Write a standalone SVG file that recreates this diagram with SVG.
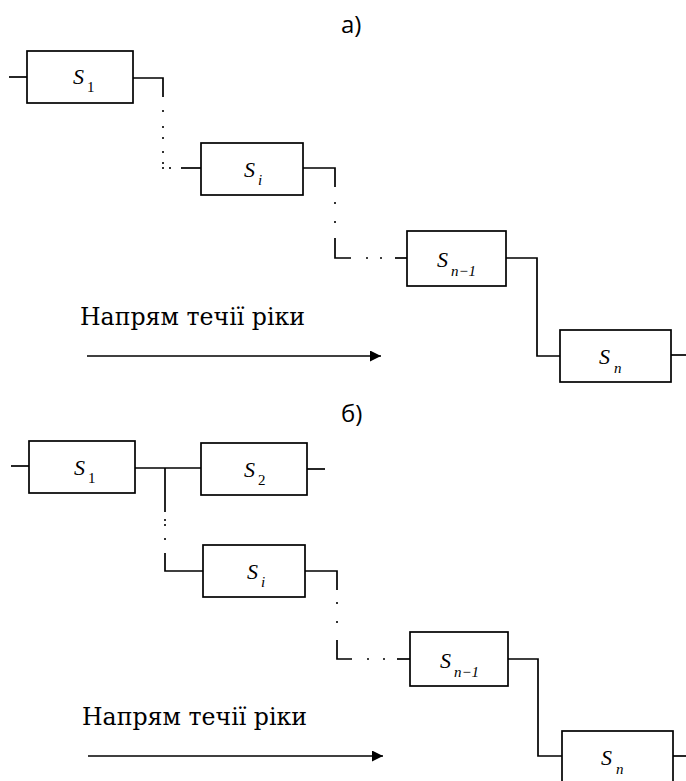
<svg xmlns="http://www.w3.org/2000/svg" width="686" height="781" viewBox="0 0 686 781">
<defs>
<style>
.box{fill:#fff;stroke:#000;stroke-width:1.7}
.ln{fill:none;stroke:#000;stroke-width:1.7}
.dot{fill:none;stroke:#000;stroke-width:1.6}
.s{font-family:"Liberation Serif",serif;font-style:italic;font-size:22px;fill:#000}
.sub{font-family:"Liberation Serif",serif;font-size:15px;fill:#000}
.subi{font-family:"Liberation Serif",serif;font-style:italic;font-size:15px;fill:#000}
.lbl{font-family:"Open Sans","Liberation Sans",sans-serif;font-size:24px;fill:#000}
.cap{font-family:"DejaVu Serif","Liberation Serif",serif;font-size:24px;fill:#000}
</style>
<marker id="ah" viewBox="0 0 10 10" refX="10" refY="5" markerWidth="15" markerHeight="11" markerUnits="userSpaceOnUse" orient="auto">
<path d="M0,0 L10,5 L0,10 Z" fill="#000"/>
</marker>
</defs>
<rect width="686" height="781" fill="#fff"/>

<text class="lbl" x="341" y="33">а)</text>
<text class="lbl" x="341" y="422">б)</text>

<g id="connectors">
<!-- part a -->
<path class="ln" d="M9 77H27"/>
<path class="ln" d="M133 78H163V97"/>
<path class="dot" d="M163 110v2M163 126v2M163 137v2M163 151v2M163 162v2M163 167v2M170 167v2"/>
<path class="ln" d="M181 168H201"/>
<path class="ln" d="M303 168H335V187"/>
<path class="dot" d="M335 202v2M335 221v2M366 258h2M380 258h2"/>
<path class="ln" d="M335 238V258H351"/>
<path class="ln" d="M395 258H407"/>
<path class="ln" d="M506 258H537V356H560"/>
<path class="ln" d="M671 355H686"/>
<path class="ln" d="M87 356H381" marker-end="url(#ah)"/>
<!-- part b -->
<path class="ln" d="M11 466H29"/>
<path class="ln" d="M135 468H201"/>
<path class="ln" d="M165 468V512"/>
<path class="dot" d="M165 519v2M165 524v2M165 538v2"/>
<path class="ln" d="M165 553V571H203"/>
<path class="ln" d="M307 469H325"/>
<path class="ln" d="M305 571H337V590"/>
<path class="dot" d="M337 602v2M337 621v2M367 659h2M383 659h2"/>
<path class="ln" d="M337 640V659H352"/>
<path class="ln" d="M397 659H410"/>
<path class="ln" d="M508 659H538V756H562"/>
<path class="ln" d="M673 756H686"/>
<path class="ln" d="M88 756H383" marker-end="url(#ah)"/>
</g>

<g id="a-s1"><rect class="box" x="27" y="51" width="106" height="52"/><text class="s" x="73" y="84">S</text><text class="sub" x="87" y="92">1</text></g>
<g id="a-si"><rect class="box" x="201" y="143" width="102" height="52"/><text class="s" x="244" y="177">S</text><text class="subi" x="258" y="185">i</text></g>
<g id="a-sn1"><rect class="box" x="407" y="231" width="99" height="55"/><text class="s" x="437" y="267">S</text><text class="subi" x="451" y="276">n<tspan class="sub">−1</tspan></text></g>
<g id="a-sn"><rect class="box" x="560" y="330" width="111" height="52"/><text class="s" x="599" y="364">S</text><text class="subi" x="614" y="373">n</text></g>
<text class="cap" x="80" y="325" textLength="225" lengthAdjust="spacingAndGlyphs">Напрям течії ріки</text>

<g id="b-s1"><rect class="box" x="29" y="441" width="106" height="52"/><text class="s" x="74" y="475">S</text><text class="sub" x="88" y="483">1</text></g>
<g id="b-s2"><rect class="box" x="201" y="443" width="106" height="52"/><text class="s" x="244" y="477">S</text><text class="sub" x="258" y="485">2</text></g>
<g id="b-si"><rect class="box" x="203" y="545" width="102" height="52"/><text class="s" x="247" y="579">S</text><text class="subi" x="261" y="587">i</text></g>
<g id="b-sn1"><rect class="box" x="410" y="632" width="98" height="54"/><text class="s" x="440" y="668">S</text><text class="subi" x="454" y="677">n<tspan class="sub">−1</tspan></text></g>
<g id="b-sn"><rect class="box" x="562" y="731" width="111" height="54"/><text class="s" x="601" y="765">S</text><text class="subi" x="616" y="774">n</text></g>
<text class="cap" x="82" y="725" textLength="225" lengthAdjust="spacingAndGlyphs">Напрям течії ріки</text>
</svg>
